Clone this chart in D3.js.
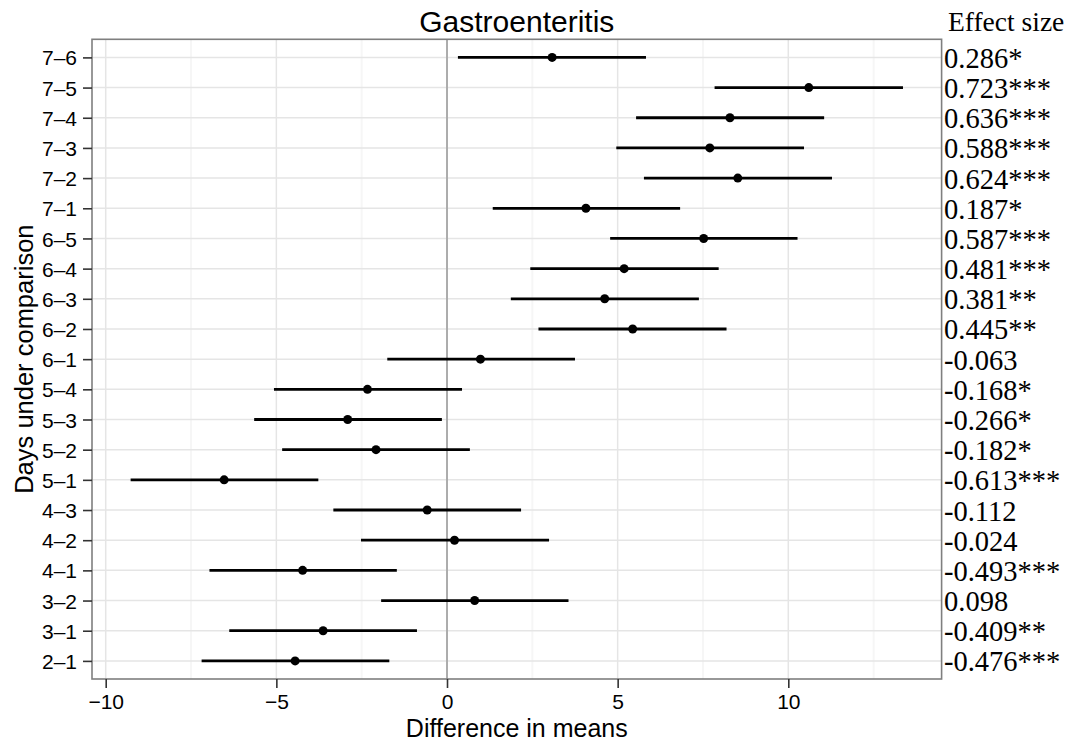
<!DOCTYPE html>
<html>
<head>
<meta charset="utf-8">
<script src="https://cdn.jsdelivr.net/npm/d3@7"></script>
<style>
  html, body { margin: 0; padding: 0; background: #fff; }
  svg { display: block; }
</style>
</head>
<body>
<svg id="chart" width="1077" height="742"></svg>
<script>
// Pairwise comparisons of days, top row first
const comparisons = ["7–6","7–5","7–4","7–3","7–2","7–1","6–5","6–4","6–3","6–2","6–1",
                     "5–4","5–3","5–2","5–1","4–3","4–2","4–1","3–2","3–1","2–1"];
// Difference in means and its confidence interval
const meanDiff = [3.08, 10.60, 8.29, 7.70, 8.52, 4.07, 7.52, 5.19, 4.62, 5.44, 0.98,
                  -2.33, -2.91, -2.08, -6.53, -0.58, 0.22, -4.23, 0.81, -3.63, -4.45];
const lowerCI  = [0.32, 7.84, 5.54, 4.96, 5.77, 1.34, 4.78, 2.44, 1.87, 2.68, -1.75,
                  -5.07, -5.65, -4.83, -9.27, -3.33, -2.52, -6.96, -1.93, -6.38, -7.19];
const upperCI  = [5.83, 13.36, 11.05, 10.46, 11.28, 6.83, 10.27, 7.96, 7.38, 8.19, 3.75,
                  0.44, -0.15, 0.67, -3.77, 2.17, 2.99, -1.47, 3.56, -0.88, -1.69];
// Effect size with significance stars
const effectSize = ["0.286*","0.723***","0.636***","0.588***","0.624***","0.187*","0.587***",
                    "0.481***","0.381**","0.445**","-0.063","-0.168*","-0.266*","-0.182*",
                    "-0.613***","-0.112","-0.024","-0.493***","0.098","-0.409**","-0.476***"];
const xMajorTicks = [-10, -5, 0, 5, 10];
const xMinorTicks = [-7.5, -2.5, 2.5, 7.5, 12.5];

const rows = comparisons.map((c, i) => ({
  label: c, mean: meanDiff[i], lo: lowerCI[i], hi: upperCI[i], es: effectSize[i]
}));

const svg = d3.select("#chart");
const panel = { left: 92, right: 941.6, top: 39.3, bottom: 679 };

// continuous x scale with 5% expansion around the data range
const lo = d3.min(rows, d => d.lo), hi = d3.max(rows, d => d.hi);
const pad = (hi - lo) * 0.05;
const x = d3.scaleLinear().domain([lo - pad, hi + pad]).range([panel.left, panel.right]);
const y = d3.scalePoint().domain(comparisons).range([panel.top, panel.bottom]).padding(0.6);

const sans = "'Liberation Sans', Arial, Helvetica, sans-serif";
const serif = "'Liberation Serif', 'Times New Roman', serif";

// panel background
svg.append("rect")
  .attr("x", panel.left).attr("y", panel.top)
  .attr("width", panel.right - panel.left).attr("height", panel.bottom - panel.top)
  .attr("fill", "#fff");

const grid = svg.append("g");
grid.selectAll("line.minor").data(xMinorTicks.filter(v => x(v) < panel.right)).join("line")
  .attr("class", "minor")
  .attr("x1", d => x(d)).attr("x2", d => x(d))
  .attr("y1", panel.top).attr("y2", panel.bottom)
  .attr("stroke", "#f6f6f6").attr("stroke-width", 2);
grid.selectAll("line.majorx").data(xMajorTicks).join("line")
  .attr("class", "majorx")
  .attr("x1", d => x(d)).attr("x2", d => x(d))
  .attr("y1", panel.top).attr("y2", panel.bottom)
  .attr("stroke", "#e5e5e5").attr("stroke-width", 1.5);
grid.selectAll("line.majory").data(comparisons).join("line")
  .attr("class", "majory")
  .attr("x1", panel.left).attr("x2", panel.right)
  .attr("y1", d => y(d)).attr("y2", d => y(d))
  .attr("stroke", "#e5e5e5").attr("stroke-width", 1.5);

// reference line at zero difference
svg.append("line")
  .attr("x1", x(0)).attr("x2", x(0))
  .attr("y1", panel.top).attr("y2", panel.bottom)
  .attr("stroke", "#a6a6a6").attr("stroke-width", 1.8);

// confidence intervals
svg.append("g").selectAll("line").data(rows).join("line")
  .attr("x1", d => x(d.lo)).attr("x2", d => x(d.hi))
  .attr("y1", d => y(d.label)).attr("y2", d => y(d.label))
  .attr("stroke", "#000").attr("stroke-width", 2.8);

// point estimates
svg.append("g").selectAll("circle").data(rows).join("circle")
  .attr("cx", d => x(d.mean)).attr("cy", d => y(d.label))
  .attr("r", 4.5).attr("fill", "#000");

// panel border
svg.append("rect")
  .attr("x", panel.left).attr("y", panel.top)
  .attr("width", panel.right - panel.left).attr("height", panel.bottom - panel.top)
  .attr("fill", "none").attr("stroke", "#7f7f7f").attr("stroke-width", 1.6);

// axes
const xAxis = svg.append("g")
  .attr("transform", `translate(0,${panel.bottom})`)
  .call(d3.axisBottom(x).tickValues(xMajorTicks).tickFormat(d3.format("d"))
        .tickSize(9).tickPadding(7).tickSizeOuter(0));
const yAxis = svg.append("g")
  .attr("transform", `translate(${panel.left},0)`)
  .call(d3.axisLeft(y).tickSize(9).tickPadding(6).tickSizeOuter(0));
[xAxis, yAxis].forEach(g => {
  g.select(".domain").remove();
  g.selectAll(".tick line").attr("stroke", "#333").attr("stroke-width", 1.6);
  g.selectAll(".tick text").attr("fill", "#000")
    .style("font-family", sans).style("font-size", "21px");
});
yAxis.selectAll(".tick text").attr("dy", "0.36em");
xAxis.selectAll(".tick text").attr("dy", "0.66em");

// titles
svg.append("text")
  .attr("x", (panel.left + panel.right) / 2).attr("y", 32)
  .attr("text-anchor", "middle")
  .style("font-family", sans).style("font-size", "30px")
  .text("Gastroenteritis");
svg.append("text")
  .attr("x", (panel.left + panel.right) / 2).attr("y", 736.5)
  .attr("text-anchor", "middle")
  .style("font-family", sans).style("font-size", "25px")
  .text("Difference in means");
svg.append("text")
  .attr("transform", `translate(33,${(panel.top + panel.bottom) / 2}) rotate(-90)`)
  .attr("text-anchor", "middle")
  .style("font-family", sans).style("font-size", "25.5px")
  .text("Days under comparison");

// effect size column
svg.append("text")
  .attr("x", 948).attr("y", 31)
  .style("font-family", serif).style("font-size", "27.5px")
  .text("Effect size");
svg.append("g").selectAll("text").data(rows).join("text")
  .attr("x", 944).attr("y", d => y(d.label) + 10.5)
  .style("font-family", serif).style("font-size", "28.5px")
  .text(d => d.es);
</script>
</body>
</html>
